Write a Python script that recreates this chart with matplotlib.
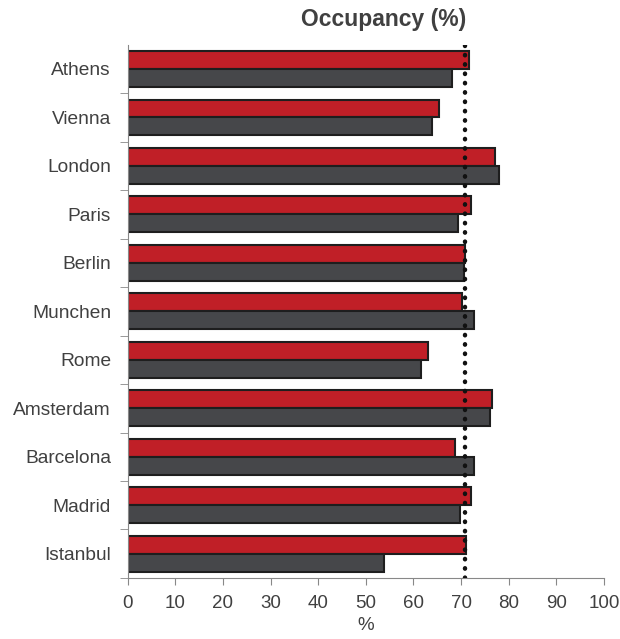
import numpy as np
import matplotlib
matplotlib.use("Agg")
import matplotlib.pyplot as plt

plt.rcParams["font.family"] = ["Liberation Sans", "DejaVu Sans"]

cities = ["Athens", "Vienna", "London", "Paris", "Berlin", "Munchen",
          "Rome", "Amsterdam", "Barcelona", "Madrid", "Istanbul"]
occ_red = [71.6, 65.3, 77.1, 72.0, 70.9, 70.1, 63.0, 76.4, 68.8, 72.0, 71.1]
occ_dark = [68.1, 63.9, 77.9, 69.4, 70.6, 72.8, 61.6, 76.0, 72.8, 69.8, 53.9]
avg_line = 70.9
xticks = list(range(0, 101, 10))

fig = plt.figure(figsize=(6.2, 6.39), dpi=100)
ax = fig.add_axes([0.206, 0.0955, 0.768, 0.8345])

y = np.arange(len(cities))
h = 0.37
ax.barh(y - h / 2, occ_red, height=h, color="#C01F27",
        edgecolor="#1e1e1e", linewidth=1.5, zorder=2)
ax.barh(y + h / 2, occ_dark, height=h, color="#46474A",
        edgecolor="#1e1e1e", linewidth=1.5, zorder=2)

# dotted reference line
ax.axvline(avg_line, color="#111111", linestyle=(0, (0.1, 2.0)),
           linewidth=3.2, dash_capstyle="round", zorder=3)

ax.set_xlim(0, 100)
ax.set_ylim(len(cities) - 0.55, -0.5)
ax.set_xticks(xticks)
ax.set_yticks(y)
ax.set_yticklabels(cities)
ax.set_yticks(np.arange(len(cities)) + 0.5, minor=True)
ax.tick_params(axis="y", which="major", length=0, pad=12,
               labelsize=13.8, labelcolor="#404040")
ax.tick_params(axis="y", which="minor", length=6, color="#888888")
ax.tick_params(axis="x", length=5, color="#888888",
               labelsize=13.5, labelcolor="#404040", pad=7)

for s in ["top", "right"]:
    ax.spines[s].set_visible(False)
ax.spines["left"].set_color("#888888")
ax.spines["bottom"].set_color("#888888")

ax.set_xlabel("%", fontsize=13.5, color="#404040", labelpad=4)
fig.text(0.619, 0.97, "Occupancy (%)", ha="center", va="center",
         fontsize=16.5, fontweight="bold", color="#404040")

fig.savefig("out.png", dpi=100)
